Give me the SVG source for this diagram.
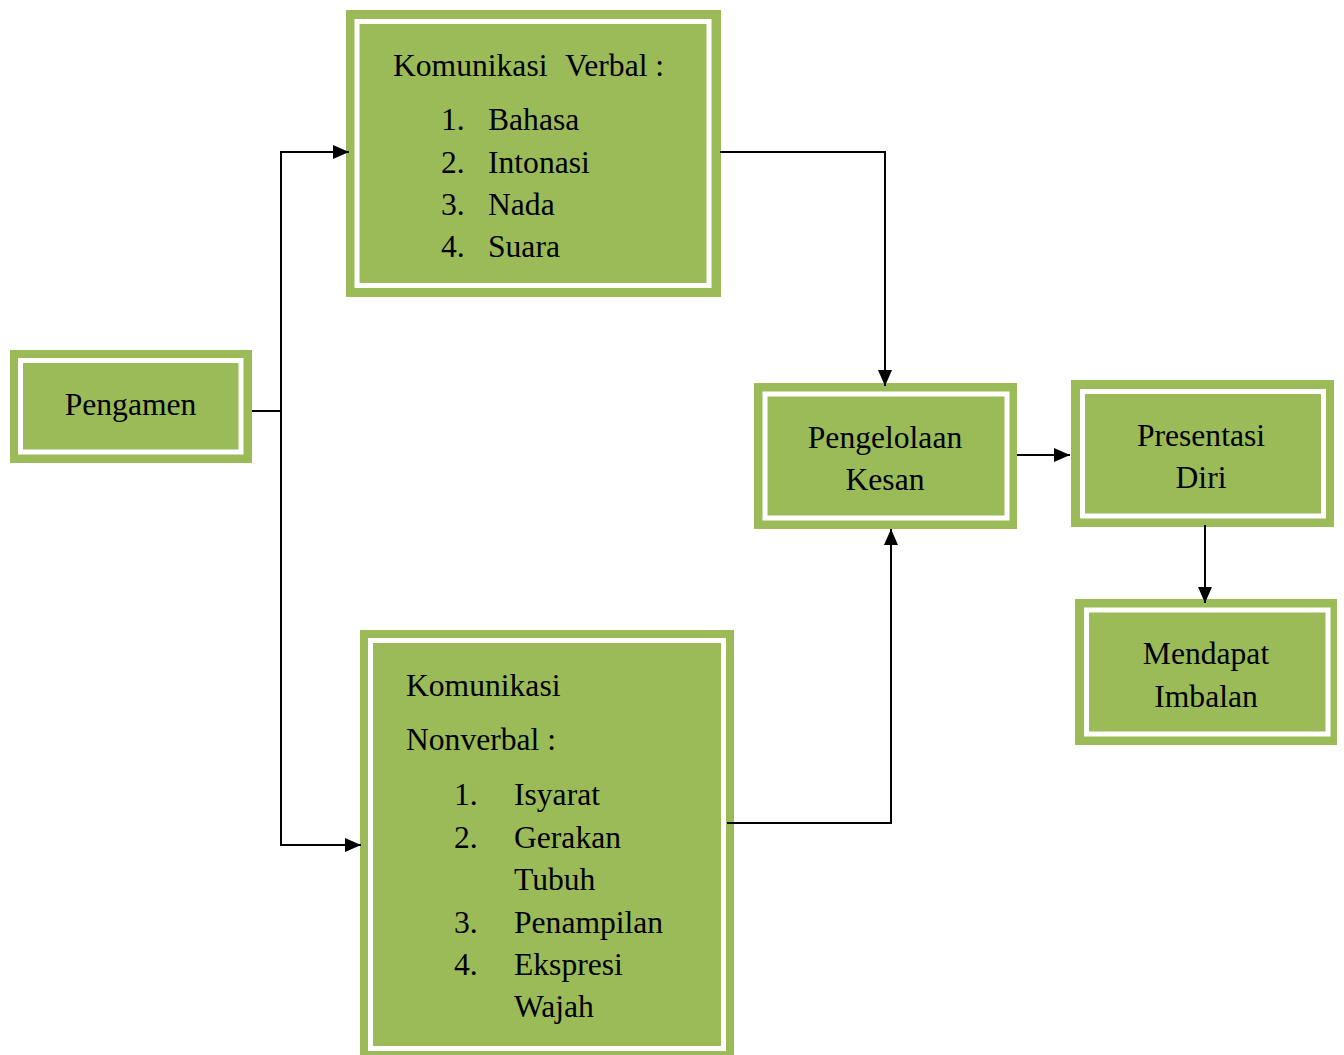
<svg xmlns="http://www.w3.org/2000/svg" width="1344" height="1055" viewBox="0 0 1344 1055">
<style>
.outer{fill:#9BBB59}
.inner{fill:none;stroke:#FFFFFF;stroke-width:5}
text{font-family:"Liberation Serif","Times New Roman",serif;font-size:31.6px;fill:#000}
.c{text-anchor:middle}
.conn{fill:none;stroke:#000;stroke-width:2;marker-end:url(#ah)}
.line{fill:none;stroke:#000;stroke-width:2}
</style>
<defs>
<marker id="ah" markerUnits="userSpaceOnUse" markerWidth="16" markerHeight="14" refX="16" refY="7" orient="auto">
<path d="M0,0 L16,7 L0,14 z" fill="#000"/>
</marker>
</defs>
<rect width="1344" height="1055" fill="#fff"/>
<g id="pengamen">
<rect class="outer" x="10" y="350" width="242" height="113"/>
<rect class="inner" x="20.5" y="360.5" width="220.5" height="91.5"/>
<text class="c" x="130.5" y="415">Pengamen</text>
</g>
<g id="verbal">
<rect class="outer" x="346" y="10" width="375" height="287"/>
<rect class="inner" x="357" y="21.5" width="352" height="264"/>
<text x="393" y="76">Komunikasi</text>
<text x="565" y="76">Verbal :</text>
<text x="441" y="130">1.</text><text x="488" y="130">Bahasa</text>
<text x="441" y="172.5">2.</text><text x="488" y="172.5">Intonasi</text>
<text x="441" y="215">3.</text><text x="488" y="215">Nada</text>
<text x="441" y="257">4.</text><text x="488" y="257">Suara</text>
</g>
<g id="nonverbal">
<rect class="outer" x="360" y="630" width="374" height="430"/>
<rect class="inner" x="370.5" y="640.5" width="353" height="408"/>
<text x="406" y="696">Komunikasi</text>
<text x="406" y="750">Nonverbal :</text>
<text x="454" y="805">1.</text><text x="514" y="805">Isyarat</text>
<text x="454" y="847.5">2.</text><text x="514" y="847.5">Gerakan</text>
<text x="514" y="890">Tubuh</text>
<text x="454" y="932.5">3.</text><text x="514" y="932.5">Penampilan</text>
<text x="454" y="974.5">4.</text><text x="514" y="974.5">Ekspresi</text>
<text x="514" y="1017">Wajah</text>
</g>
<g id="pengelolaan">
<rect class="outer" x="754" y="383" width="263" height="146"/>
<rect class="inner" x="765" y="394" width="242" height="124"/>
<text class="c" x="885" y="447.5">Pengelolaan</text>
<text class="c" x="885" y="489.5">Kesan</text>
</g>
<g id="presentasi">
<rect class="outer" x="1071" y="380" width="263" height="147"/>
<rect class="inner" x="1082.5" y="391.5" width="241" height="124.5"/>
<text class="c" x="1201" y="445.5">Presentasi</text>
<text class="c" x="1201" y="487.5">Diri</text>
</g>
<g id="mendapat">
<rect class="outer" x="1075" y="599" width="262" height="146"/>
<rect class="inner" x="1086.5" y="610" width="241.5" height="124"/>
<text class="c" x="1206" y="664">Mendapat</text>
<text class="c" x="1206" y="706.5">Imbalan</text>
</g>
<g id="connectors">
<path class="line" d="M252,411 H281"/>
<path class="conn" d="M281,411 V152 H349"/>
<path class="conn" d="M281,411 V845 H361"/>
<path class="conn" d="M720,152 H885 V386"/>
<path class="conn" d="M727,823 H891 V529"/>
<path class="conn" d="M1017,455 H1070"/>
<path class="conn" d="M1205,525 V603"/>
</g>
</svg>
